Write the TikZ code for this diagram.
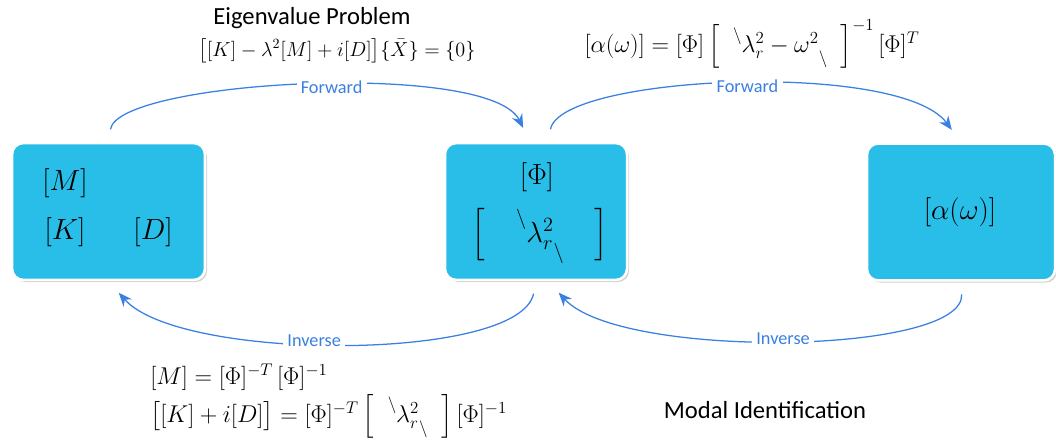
\documentclass[tikz,border=0pt]{standalone}
\usepackage{amsmath}
\usepackage{fontspec}
\setmainfont{Carlito}
\usetikzlibrary{arrows.meta, shadows}

\definecolor{boxcyan}{RGB}{41,190,232}
\definecolor{flowblue}{RGB}{58,128,226}

% diagonal matrix with slanted dots
\newcommand{\diagsq}[1]{\left[\;\;\vphantom{\Big|}\raisebox{1.1ex}{$\scriptstyle\backslash$}#1\raisebox{-1.0ex}{$\scriptstyle\backslash$}\;\;\right]}

\begin{document}
\begin{tikzpicture}[
    x=0.025cm, y=-0.025cm,
    box/.style={rectangle, rounded corners=8pt, fill=boxcyan, draw=white, line width=1.8pt,
                drop shadow={shadow xshift=1.5pt, shadow yshift=-1.5pt, opacity=0.35},
                minimum width=#1, minimum height=3.42cm, inner sep=0pt},
    big/.style={font=\fontsize{22}{26}\selectfont},
    eq/.style={font=\fontsize{#1}{19}\selectfont, inner sep=0pt},
    eq/.default=16.5,
    note/.style={font=\fontsize{17.5}{21}\selectfont, inner sep=0pt},
    flow/.style={-{Stealth[length=3.4mm, width=2.8mm]}, flowblue, line width=0.9pt,
                 shorten <=9pt, shorten >=11pt},
    tag/.style={fill=white, text=flowblue, font=\fontsize{13}{15}\selectfont, inner sep=3pt}
]
    \useasboundingbox (0,0) rectangle (1056,441);

    % Boxes
    \node[box=4.82cm] (mk) at (108.5,211.5) {};
    \node[box=4.55cm] (phi) at (536,211.5) {};
    \node[box=4.70cm] (alpha) at (961,212) {};

    % Box contents
    \node[big] (mM) at (65,183) {$[M]$};
    \node[big] (mK) at (65,232) {$[K]$};
    \node[big] (mD) at (153,232) {$[D]$};
    \node[big] (pPhi) at (537,177) {$[\Phi]$};
    \node[big] (pLam) at (540,236) {$\left[\quad\raisebox{1.2ex}{$\scriptstyle\backslash$}\lambda_r^2\raisebox{-1.1ex}{$\scriptstyle\backslash$}\quad\right]$};
    \node[big] (aFrf) at (960,212) {$[\alpha(\omega)]$};

    % Connectors
    \draw[flow] (mk.north) .. controls (118,80) and (490,60) .. (phi.95)
        node[tag, pos=0.54] (fwd1) {Forward};
    \draw[flow] (phi.80) .. controls (560,75) and (900,60) .. (alpha.north)
        node[tag, pos=0.52] (fwd2) {Forward};
    \draw[flow] (phi.south) .. controls (520,362) and (180,362) .. (mk.south)
        node[tag, pos=0.55] (inv1) {Inverse};
    \draw[flow] (alpha.south) .. controls (965,355) and (620,360) .. (phi.-80)
        node[tag, pos=0.5] (inv2) {Inverse};

    % Texts
    \node[note] (eigtitle) at (312,18) {Eigenvalue Problem};
    \node[eq=14.5] (eigeq) at (337,51) {$\big[[K]-\lambda^2[M]+i[D]\big]\{\bar{X}\}=\{0\}$};
    \node[eq] (frfeq) at (752,44) {$[\alpha(\omega)]=[\Phi]\diagsq{\lambda_r^2-\omega^2}^{-1}[\Phi]^T$};
    \node[eq, anchor=west] (inveqM) at (150,377) {$[M]=[\Phi]^{-T}\,[\Phi]^{-1}$};
    \node[eq, anchor=west] (inveqK) at (150,416) {$\big[[K]+i[D]\big]=[\Phi]^{-T}\diagsq{\lambda_r^2}[\Phi]^{-1}$};
    \node[note] (modal) at (765,410) {Modal Identification};
\end{tikzpicture}
\end{document}
